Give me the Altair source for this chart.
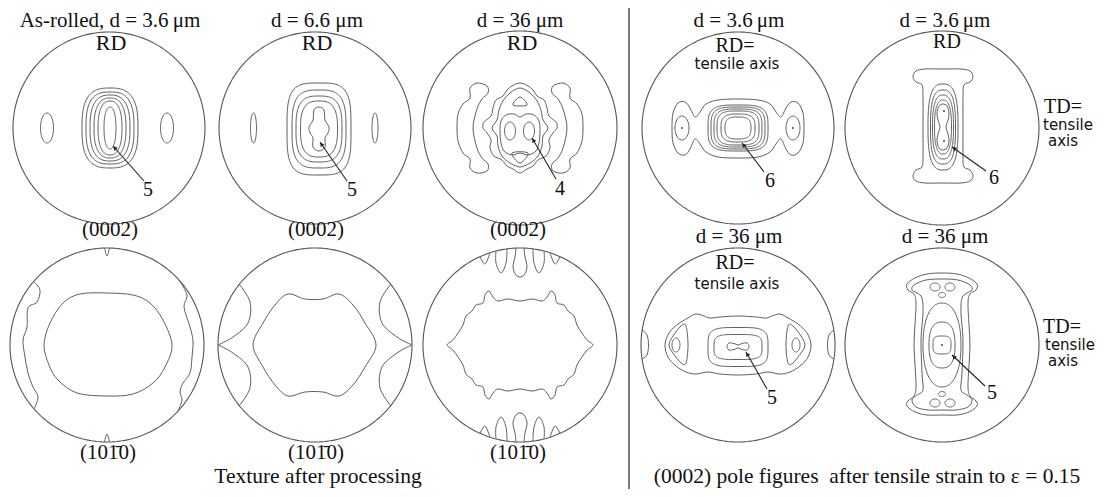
import math
import altair as alt
import pandas as pd

# ---------------- layout (page pixels) ----------------
PLOT_W, PLOT_H, MARGIN = 1091, 481, 8
CENTRE = {
    "A": (109, 128), "B": (315, 128), "C": (520, 128), "D": (738, 128), "E": (942, 128),
    "H": (107, 345), "I": (315, 345), "J": (520, 345), "F": (738, 345), "G": (942, 345),
}
RADIUS = {"A": 96, "B": 96, "C": 97, "D": 96, "E": 97,
          "H": 97, "I": 97, "J": 97, "F": 97, "G": 97}
DIVIDER_X = 629
NEST_OFFSET = {"A": (1, 0), "B": (4, 1), "D": (0, 0), "E": (1, -1), "F": (0, 2), "G": (0, 0)}

# ---------------- data (pole-figure units, radius ~ 96) ----------------
# nested iso-intensity levels: half-width, half-height, squareness
A_HW = [28, 24, 20, 16, 12, 6]
A_HH = [40, 36, 33, 30, 27, 21]
A_SQ = [2.8, 2.8, 2.6, 2.5, 2.4, 2.2]
B_HW = [32, 27, 23, 18.5]
B_HH = [46, 39, 33, 28]
B_SQ = [3.6, 3.2, 3.0, 2.8]
D_HW = [30, 27, 24, 21, 17, 13]
D_HH = [23, 21, 19, 17, 14, 11]
D_SQ = [3.6, 3.6, 3.5, 3.4, 3.2, 3.0]
E_HW = [15, 12.5, 10.5, 8.5]
E_HH = [43, 37, 32, 27]
E_SQ = [2.8, 2.8, 2.6, 2.5]
F_HW = [30, 24]
F_HH = [19.5, 12.5]
F_SQ = [4.0, 4.0]
G_HW = [19, 13, 9]
G_HH = [42, 23, 9]
G_SQ = [2.2, 2.5, 3.5]

# small closed ovals: panel, dx, dy, half-width, half-height
OVAL_PANEL = ["A", "A", "B", "B", "C", "C", "D", "D", "F", "F", "G", "G", "G", "G", "G", "G"]
OVAL_DX = [-62, 58, -61.5, 60, -10, 9, -56, 55, -62, 58, -7, 8, 0, -7, 8, 0]
OVAL_DY = [0, 0, 0, 0, 3, 3, 0, 0, 0, 0, -58, -58, -50, 58, 58, 49]
OVAL_HW = [6.5, 6.5, 3, 3, 5.5, 5.5, 7, 7, 4, 4, 5, 5, 3.5, 5, 5, 3.5]
OVAL_HH = [15, 15, 15, 15, 9, 9, 12, 12, 7, 7, 4, 4, 2.5, 4, 4, 2.5]

# maxima dots
DOT_PANEL = ["D", "D", "E", "E", "G"]
DOT_DX = [-56, 55, 1, 1, 0]
DOT_DY = [0, 0, -16, 14, 0]

# free-form closed contours (right halves are mirrored)
B_PEANUT_HALF = [(0, -22), (5, -19), (6, -9), (10, -2), (9, 4), (6, 9), (6, 18), (0, 22)]
C_OUTER_HALF = [(0, -45), (8, -42), (13, -38), (17, -32), (24, -28), (27, -20), (29, -12),
                (36, -6), (37, 0), (33, 5), (29, 12), (30, 20), (26, 28), (18, 32),
                (13, 38), (7, 41), (0, 45)]
C_SECOND_HALF = [(0, -40), (10, -35), (17, -27), (21, -18), (23, -8), (28, 0), (23, 8),
                 (22, 18), (18, 28), (10, 35), (0, 39)]
C_FACE_HALF = [(0, -14), (6, -17), (14, -16), (19, -10), (20, 0), (19, 12), (16, 20),
               (8, 24), (0, 22)]
C_TRI_TOP = [(0, -31), (7, -23), (-7, -23)]
C_TRI_BOT = [(-8, 25), (8, 25), (0, 35)]
C_CRESCENT = [(-33, -42), (-43, -45), (-50, -40), (-50, -30), (-57, -24), (-62, -14),
              (-63, 0), (-62, 13), (-57, 25), (-50, 31), (-50, 40), (-43, 45), (-33, 43),
              (-32, 36), (-38, 30), (-43, 20), (-47, 0), (-43, -19), (-38, -29), (-32, -35)]
D_WING_HALF = [(0, -29), (20, -28), (32, -24), (38, -16), (43, -11), (48, -20), (53, -26),
               (60, -25), (65, -15), (66, 0), (65, 15), (60, 25), (53, 27), (48, 21),
               (43, 11), (38, 16), (32, 24), (20, 29), (0, 30)]
E_IBEAM_HALF = [(0, -58), (18, -58), (27, -56), (30, -50), (27, -45), (21, -42), (20, -30),
                (20, 0), (20, 30), (21, 40), (27, 43), (30, 49), (27, 54), (18, 56), (0, 56)]
E_PEANUT_HALF = [(0, -23), (4, -21), (6, -14), (5, -7), (3, 0), (5, 7), (6, 14), (4, 21), (0, 23)]
F_BAND_HALF = [(0, -29), (18, -28), (28, -27), (34, -29), (42, -31), (50, -27), (60, -21),
               (69, -12), (73, 0), (70, 12), (62, 21), (52, 27), (42, 29), (30, 27),
               (18, 29), (0, 30)]
F_TRI_RIGHT = [(50, -19), (55, -19), (63, -9), (67, 0), (63, 8), (55, 18), (50, 18), (48, 0)]
F_DUMBBELL = [(-11, 0), (-9, -3.5), (-4, -3), (0, -1.5), (4, -3), (9, -3.5), (11, 0),
              (9, 3.5), (4, 3), (0, 1.5), (-4, 3), (-9, 3.5)]
G_OUTER_HALF = [(0, -72), (15, -71), (27, -67), (35, -61), (34, -55), (28, -51), (26, -42),
                (27, -20), (28, 0), (27, 20), (26, 42), (28, 51), (34, 56), (35, 61),
                (27, 67), (15, 70), (0, 70)]
G_SECOND_HALF = [(0, -66), (16, -65), (28, -60), (30, -55), (25, -52), (20, -47), (19, -32),
                 (21, -5), (20, 28), (19, 45), (25, 50), (30, 55), (26, 62), (14, 65), (0, 65)]
H_LEMON = [(0, -52), (26, -50), (43, -42), (56, -25), (65, 0), (58, 22), (46, 38), (26, 49),
           (0, 51), (-30, 48), (-49, 35), (-58, 20), (-63, 0), (-57, -22), (-44, -42), (-27, -51)]
I_CENTRAL = [(-62, 0), (-52, -22), (-40, -40), (-27, -51), (-10, -46), (8, -46), (24, -51),
             (38, -40), (50, -22), (61, 0), (50, 22), (38, 40), (24, 51), (8, 47), (-10, 47),
             (-27, 51), (-40, 40), (-52, 22)]
J_SPIKY_HALF = [(0, -44), (12, -46), (22, -44), (27, -48), (31, -54), (35, -50), (37, -42),
                (44, -40), (48, -34), (54, -29), (57, -20), (62, -12), (67, -5), (73, 0),
                (67, 5), (62, 12), (57, 20), (54, 29), (48, 34), (44, 40), (37, 42), (35, 50),
                (31, 54), (27, 48), (22, 44), (12, 46), (0, 44)]

# free-form open contours (ending on the pole-figure rim)
H_ARC_LEFT = [(-73, -63), (-67, -55), (-70, -43), (-79, -37), (-80, -18), (-84, -5),
              (-82, 12), (-79, 28), (-74, 42), (-69, 52), (-73, 64)]
H_ARC_RIGHT = [(72, -65), (80, -50), (77, -38), (83, -18), (86, -4), (85, 12), (83, 28),
               (76, 38), (73, 47), (75, 55), (71, 66)]
H_NOTCH = [(-2.5, -97), (0, -89), (2.5, -97)]
I_CHEVRON_UP = [(-76, -61), (-65, -43), (-67, -22), (-82, -8), (-97, 0)]
F_EDGE = [(-96, -15), (-91, -10), (-89.5, 0), (-91, 10), (-96, 14)]
J_FINGERS = [
    [(-40, -88.4), (-35, -81), (-30, -92.2)],
    [(-24, -94), (-24, -82), (-19, -72), (-14, -82), (-13, -96.1)],
    [(-4, -96.9), (-5, -88), (-7, -78), (-4, -70), (0, -68), (4, -70), (7, -78), (5, -88), (4, -96.9)],
    [(13, -96.1), (14, -82), (19, -72), (24, -82), (24, -94)],
    [(30, -92.2), (35, -81), (40, -88.4)],
]

# maxima labels and their leader arrows: panel, label, label pos, tail, tip
ARROW_PANEL = ["A", "B", "C", "D", "E", "F", "G"]
ARROW_TEXT = ["5", "5", "4", "6", "6", "5", "5"]
ARROW_LABEL = [(39, 62), (37, 62), (40, 61), (32, 53), (52, 50), (34, 53), (50, 48)]
ARROW_TAIL = [(35, 53), (32, 53), (36, 51), (26, 44), (44, 43), (29, 44), (43, 41)]
ARROW_TIP = [(4, 18), (5, 14), (12, 10), (4, 15), (10, 19), (8, 7), (10, 10)]

# texts
TITLE_TEXT = ["As-rolled, d = 3.6\u2009\u03bcm", "d = 6.6 \u03bcm", "d = 36 \u03bcm",
              "d = 3.6\u2009\u03bcm", "d = 3.6\u2009\u03bcm", "d = 36 \u03bcm", "d = 36 \u03bcm"]
TITLE_POS = [(110, 27), (317, 27), (520, 27), (739, 27), (945, 27), (739, 243), (945, 243)]
RD_TEXT = ["RD", "RD", "RD"]
RD_POS = [(111, 50), (317, 50), (522, 50)]
RD2_TEXT = ["RD=", "RD", "RD="]
RD2_POS = [(735, 52), (947, 48), (735, 269)]
PLANE_TEXT = ["(0002)", "(0002)", "(0002)", "(101\u03040)", "(101\u03040)", "(101\u03040)"]
PLANE_POS = [(110, 236), (316, 236), (518, 236), (108, 459), (316, 459), (518, 459)]
TENSILE_TEXT = ["tensile axis", "tensile axis", "tensile", "axis", "tensile", "axis"]
TENSILE_POS = [(737, 69, "center"), (737, 289, "center"), (1043, 130, "left"),
               (1048, 146, "left"), (1045, 350, "left"), (1048, 366, "left")]
TD_TEXT = ["TD=", "TD="]
TD_POS = [(1044, 113), (1043, 333)]
CAPTION_TEXT = ["Texture after processing",
                "(0002) pole figures\u2002after tensile strain to \u03b5 = 0.15"]
CAPTION_POS = [(318, 483), (867, 483)]

# ---------------- geometry helpers ----------------
def superellipse(a, b, n, m=120):
    pts = []
    for i in range(m):
        t = 2 * math.pi * i / m
        c, s = math.cos(t), math.sin(t)
        pts.append((a * math.copysign(abs(c) ** (2 / n), c),
                    b * math.copysign(abs(s) ** (2 / n), s)))
    return pts


def mirror_half(half):
    return half + [(-x, y) for (x, y) in reversed(half[1:-1])]


def flip_x(pts):
    return [(-x, y) for (x, y) in pts]


def flip_y(pts):
    return [(x, -y) for (x, y) in pts]


gid = [0]


def add(rows, panel, pts, off=(0, 0)):
    cx, cy = CENTRE[panel]
    gid[0] += 1
    for k, (x, y) in enumerate(pts):
        rows.append({"g": gid[0], "o": k, "x": cx + off[0] + x, "y": cy + off[1] + y})


lin_rows, circ_rows, closed_rows, open_rows = [], [], [], []

for p, r in RADIUS.items():
    add(circ_rows, p, [(r * math.cos(2 * math.pi * i / 240), r * math.sin(2 * math.pi * i / 240))
                       for i in range(240)])

for p, hw, hh, sq in [("A", A_HW, A_HH, A_SQ), ("B", B_HW, B_HH, B_SQ), ("D", D_HW, D_HH, D_SQ),
                      ("E", E_HW, E_HH, E_SQ), ("F", F_HW, F_HH, F_SQ), ("G", G_HW, G_HH, G_SQ)]:
    for a, b, n in zip(hw, hh, sq):
        add(lin_rows, p, superellipse(a, b, n), NEST_OFFSET[p])

for p, dx, dy, a, b in zip(OVAL_PANEL, OVAL_DX, OVAL_DY, OVAL_HW, OVAL_HH):
    add(lin_rows, p, superellipse(a, b, 2.0, 60), (dx, dy))

add(closed_rows, "B", mirror_half(B_PEANUT_HALF), NEST_OFFSET["B"])
add(closed_rows, "C", mirror_half(C_OUTER_HALF))
add(closed_rows, "C", mirror_half(C_SECOND_HALF))
add(closed_rows, "C", mirror_half(C_FACE_HALF), (0, 3))
add(closed_rows, "C", C_TRI_TOP)
add(closed_rows, "C", C_TRI_BOT)
add(closed_rows, "C", C_CRESCENT)
add(closed_rows, "C", flip_x(C_CRESCENT))
add(closed_rows, "D", mirror_half(D_WING_HALF))
add(closed_rows, "E", mirror_half(E_IBEAM_HALF), NEST_OFFSET["E"])
add(closed_rows, "E", mirror_half(E_PEANUT_HALF), NEST_OFFSET["E"])
add(closed_rows, "F", mirror_half(F_BAND_HALF))
add(closed_rows, "F", F_TRI_RIGHT)
add(closed_rows, "F", flip_x(F_TRI_RIGHT), (-2, 0))
add(closed_rows, "F", F_DUMBBELL, (0, 1.5))
add(closed_rows, "G", mirror_half(G_OUTER_HALF))
add(closed_rows, "G", mirror_half(G_SECOND_HALF))
add(closed_rows, "H", H_LEMON)
add(closed_rows, "I", I_CENTRAL)
add(closed_rows, "J", mirror_half(J_SPIKY_HALF))

add(open_rows, "H", H_ARC_LEFT)
add(open_rows, "H", H_ARC_RIGHT)
add(open_rows, "H", H_NOTCH)
add(open_rows, "H", flip_y(H_NOTCH))
for pts in [I_CHEVRON_UP, flip_y(I_CHEVRON_UP), flip_x(I_CHEVRON_UP), flip_x(flip_y(I_CHEVRON_UP))]:
    add(open_rows, "I", pts)
add(open_rows, "F", F_EDGE)
add(open_rows, "F", flip_x(F_EDGE))
for f in J_FINGERS:
    add(open_rows, "J", f)
    add(open_rows, "J", flip_y(f))

# arrows
arrow_rows, head_rows, num_rows = [], [], []
for p, t, lab, tail, tip in zip(ARROW_PANEL, ARROW_TEXT, ARROW_LABEL, ARROW_TAIL, ARROW_TIP):
    cx, cy = CENTRE[p]
    x1, y1, x2, y2 = cx + tail[0], cy + tail[1], cx + tip[0], cy + tip[1]
    arrow_rows.append({"x": x1, "y": y1, "x2": x2, "y2": y2})
    dx, dy = x2 - x1, y2 - y1
    L = math.hypot(dx, dy)
    ang = math.degrees(math.atan2(dx, -dy)) % 360
    head_rows.append({"x": x2 - 2.5 * dx / L, "y": y2 - 2.5 * dy / L, "ang": ang})
    num_rows.append({"x": cx + lab[0], "y": cy + lab[1], "t": t})

dot_rows = []
for p, dx, dy in zip(DOT_PANEL, DOT_DX, DOT_DY):
    ox, oy = NEST_OFFSET[p] if p == "E" else (0, 0)
    dot_rows.append({"x": CENTRE[p][0] + dx + ox, "y": CENTRE[p][1] + dy + oy})

# ---------------- chart ----------------
XS = alt.Scale(domain=[MARGIN, MARGIN + PLOT_W], nice=False, zero=False)
YS = alt.Scale(domain=[MARGIN, MARGIN + PLOT_H], nice=False, zero=False, reverse=True)
LINE = "#5f5f5f"
FONT_SERIF = "Liberation Serif"
FONT_SANS = "DejaVu Sans"


def xy(extra=None):
    enc = dict(x=alt.X("x:Q", scale=XS, axis=None), y=alt.Y("y:Q", scale=YS, axis=None))
    if extra:
        enc.update(extra)
    return enc


def lines(rows, interp, color=LINE, width=1.0):
    return alt.Chart(pd.DataFrame(rows)).mark_line(
        interpolate=interp, stroke=color, strokeWidth=width
    ).encode(**xy({"detail": "g:N", "order": "o:Q"}))


def texts(items, font, size, align="center", baseline="alphabetic", color="#111111"):
    df = pd.DataFrame(items)
    return alt.Chart(df).mark_text(
        font=font, fontSize=size, align=align, baseline=baseline, color=color
    ).encode(**xy({"text": "t:N"}))


def pairs(txt, pos):
    return [{"x": p[0], "y": p[1], "t": t} for t, p in zip(txt, pos)]


layers = [
    lines(circ_rows, "linear-closed", "#555555", 1.1),
    lines(lin_rows, "linear-closed"),
    lines(closed_rows, "cardinal-closed"),
    lines(open_rows, "cardinal"),
    alt.Chart(pd.DataFrame(arrow_rows)).mark_rule(color="#222222", strokeWidth=1.1).encode(
        **xy({"x2": alt.X2("x2:Q"), "y2": alt.Y2("y2:Q")})),
    alt.Chart(pd.DataFrame(head_rows)).mark_point(
        shape="triangle-up", filled=True, size=22, color="#222222", opacity=1
    ).encode(**xy({"angle": alt.Angle("ang:Q", scale=None)})),
    alt.Chart(pd.DataFrame(dot_rows)).mark_circle(size=4, color="#444444", opacity=1).encode(**xy()),
    alt.Chart(pd.DataFrame([{"v": DIVIDER_X}])).mark_rule(color="#333333", strokeWidth=1.3).encode(
        x=alt.X("v:Q", scale=XS, axis=None), y=alt.value(0), y2=alt.value(PLOT_H)),
    texts(pairs(TITLE_TEXT, TITLE_POS), FONT_SERIF, 21),
    texts(pairs(RD_TEXT, RD_POS), FONT_SERIF, 22),
    texts(pairs(RD2_TEXT, RD2_POS), FONT_SERIF, 20),
    texts(pairs(PLANE_TEXT, PLANE_POS), FONT_SERIF, 21),
    texts(pairs(TD_TEXT, TD_POS), FONT_SERIF, 20, align="left"),
    texts([{"x": x, "y": y, "t": t} for t, (x, y, a) in zip(TENSILE_TEXT, TENSILE_POS) if a == "center"],
          FONT_SANS, 15),
    texts([{"x": x, "y": y, "t": t} for t, (x, y, a) in zip(TENSILE_TEXT, TENSILE_POS) if a == "left"],
          FONT_SANS, 15, align="left"),
    texts(num_rows, FONT_SERIF, 20, baseline="middle"),
    texts(pairs(CAPTION_TEXT, CAPTION_POS), FONT_SERIF, 21.5),
]

chart = alt.layer(*layers).properties(
    width=PLOT_W, height=PLOT_H, padding=0,
    autosize=alt.AutoSizeParams(type="none"),
).configure_view(stroke=None)

chart.save("out.html", embed_options={"renderer": "svg", "actions": False})
